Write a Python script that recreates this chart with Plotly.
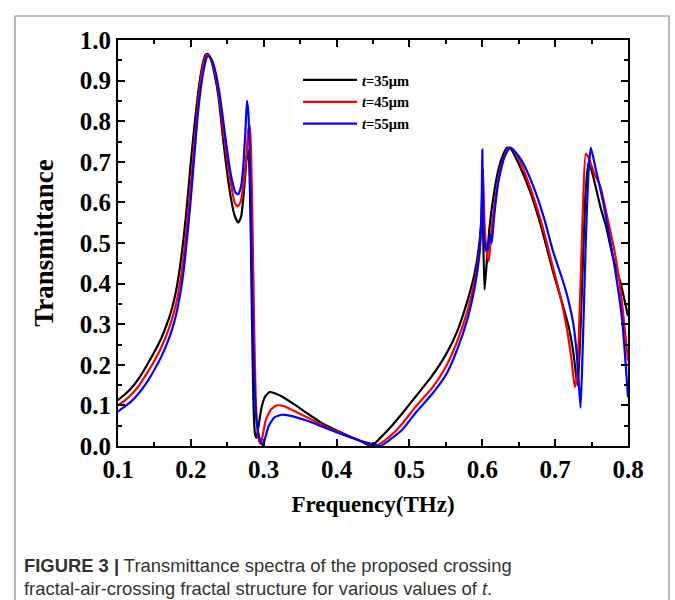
import plotly.graph_objects as go

# Transmittance spectra for three thicknesses t of the crossing fractal-air-crossing fractal structure
freq_35 = [0.100, 0.110, 0.120, 0.130, 0.140, 0.150, 0.160, 0.170, 0.175, 0.180, 0.185, 0.190,
           0.195, 0.200, 0.205, 0.210, 0.215, 0.220, 0.223, 0.227, 0.232, 0.238, 0.244, 0.250,
           0.255, 0.260, 0.265, 0.269, 0.273, 0.276, 0.278, 0.280, 0.282, 0.284, 0.286, 0.288,
           0.290, 0.293, 0.297, 0.302, 0.308, 0.315, 0.325, 0.340, 0.360, 0.380, 0.400, 0.420,
           0.435, 0.448, 0.460, 0.475, 0.490, 0.510, 0.530, 0.550, 0.565, 0.580, 0.590, 0.596,
           0.599, 0.600, 0.601, 0.603, 0.606, 0.610, 0.615, 0.622, 0.628, 0.634, 0.640, 0.650,
           0.665, 0.680, 0.697, 0.710, 0.719, 0.725, 0.729, 0.731, 0.734, 0.738, 0.742, 0.746,
           0.752, 0.762, 0.770, 0.780, 0.790, 0.800]
trans_35 = [0.113, 0.128, 0.146, 0.170, 0.200, 0.232, 0.268, 0.315, 0.345, 0.385, 0.440, 0.510,
            0.600, 0.700, 0.790, 0.870, 0.930, 0.963, 0.966, 0.955, 0.920, 0.860, 0.760, 0.670,
            0.610, 0.568, 0.550, 0.565, 0.630, 0.700, 0.730, 0.700, 0.550, 0.300, 0.100, 0.030,
            0.020, 0.050, 0.095, 0.122, 0.133, 0.130, 0.122, 0.105, 0.080, 0.056, 0.038, 0.022,
            0.010, 0.000, 0.020, 0.048, 0.080, 0.125, 0.170, 0.225, 0.280, 0.360, 0.430, 0.500,
            0.570, 0.640, 0.550, 0.385, 0.450, 0.540, 0.610, 0.680, 0.715, 0.735, 0.730, 0.695,
            0.630, 0.545, 0.430, 0.350, 0.290, 0.230, 0.170, 0.150, 0.250, 0.450, 0.630, 0.700,
            0.665, 0.590, 0.540, 0.460, 0.400, 0.320]

freq_45 = [0.100, 0.110, 0.120, 0.130, 0.140, 0.150, 0.160, 0.170, 0.175, 0.180, 0.185, 0.190,
           0.195, 0.200, 0.205, 0.210, 0.215, 0.221, 0.224, 0.228, 0.233, 0.239, 0.245, 0.251,
           0.256, 0.260, 0.264, 0.268, 0.272, 0.276, 0.279, 0.281, 0.283, 0.285, 0.287, 0.289,
           0.291, 0.294, 0.296, 0.299, 0.303, 0.310, 0.318, 0.328, 0.340, 0.360, 0.380, 0.400,
           0.420, 0.440, 0.453, 0.465, 0.480, 0.490, 0.510, 0.532, 0.550, 0.565, 0.580, 0.590,
           0.596, 0.599, 0.601, 0.603, 0.606, 0.609, 0.612, 0.618, 0.626, 0.636, 0.642, 0.652,
           0.667, 0.682, 0.697, 0.707, 0.715, 0.722, 0.727, 0.730, 0.734, 0.738, 0.742, 0.746,
           0.754, 0.762, 0.772, 0.782, 0.790, 0.800]
trans_45 = [0.100, 0.113, 0.130, 0.152, 0.180, 0.210, 0.245, 0.290, 0.318, 0.352, 0.400, 0.465,
            0.550, 0.645, 0.750, 0.845, 0.920, 0.962, 0.963, 0.952, 0.920, 0.860, 0.770, 0.690,
            0.635, 0.600, 0.590, 0.600, 0.640, 0.710, 0.780, 0.790, 0.700, 0.500, 0.280, 0.120,
            0.050, 0.010, 0.005, 0.030, 0.065, 0.090, 0.100, 0.098, 0.088, 0.070, 0.052, 0.036,
            0.021, 0.008, 0.000, 0.012, 0.035, 0.055, 0.100, 0.145, 0.195, 0.255, 0.335, 0.410,
            0.480, 0.560, 0.680, 0.550, 0.480, 0.455, 0.520, 0.610, 0.690, 0.735, 0.730, 0.700,
            0.630, 0.545, 0.440, 0.370, 0.300, 0.220, 0.145, 0.170, 0.350, 0.580, 0.720, 0.710,
            0.670, 0.640, 0.560, 0.475, 0.380, 0.210]

freq_55 = [0.100, 0.110, 0.120, 0.130, 0.140, 0.150, 0.160, 0.170, 0.175, 0.180, 0.185, 0.190,
           0.195, 0.200, 0.205, 0.210, 0.216, 0.222, 0.225, 0.229, 0.234, 0.240, 0.246, 0.252,
           0.257, 0.261, 0.265, 0.269, 0.272, 0.275, 0.277, 0.279, 0.281, 0.283, 0.285, 0.288,
           0.291, 0.295, 0.299, 0.302, 0.307, 0.315, 0.325, 0.340, 0.360, 0.380, 0.400, 0.420,
           0.440, 0.460, 0.475, 0.490, 0.510, 0.532, 0.550, 0.565, 0.580, 0.590, 0.596, 0.599,
           0.600, 0.601, 0.603, 0.606, 0.609, 0.611, 0.613, 0.616, 0.622, 0.630, 0.638, 0.645,
           0.655, 0.670, 0.685, 0.697, 0.710, 0.718, 0.725, 0.730, 0.733, 0.735, 0.738, 0.742,
           0.746, 0.749, 0.756, 0.766, 0.780, 0.792, 0.800]
trans_55 = [0.085, 0.098, 0.113, 0.133, 0.158, 0.188, 0.222, 0.265, 0.292, 0.325, 0.370, 0.430,
            0.515, 0.610, 0.720, 0.825, 0.910, 0.958, 0.960, 0.950, 0.920, 0.860, 0.780, 0.700,
            0.650, 0.625, 0.620, 0.640, 0.690, 0.780, 0.850, 0.820, 0.700, 0.500, 0.300, 0.120,
            0.050, 0.015, 0.002, 0.020, 0.050, 0.071, 0.077, 0.073, 0.062, 0.048, 0.034, 0.021,
            0.009, 0.000, 0.018, 0.040, 0.085, 0.130, 0.175, 0.235, 0.315, 0.395, 0.470, 0.580,
            0.730, 0.600, 0.500, 0.480, 0.500, 0.520, 0.500, 0.560, 0.650, 0.710, 0.735, 0.725,
            0.700, 0.640, 0.560, 0.480, 0.410, 0.360, 0.300, 0.220, 0.140, 0.094, 0.250, 0.500,
            0.680, 0.735, 0.680, 0.600, 0.460, 0.310, 0.120]

series_names = ["<i>t</i>=35μm", "<i>t</i>=45μm", "<i>t</i>=55μm"]
series_colors = ["#000000", "#ff0000", "#0000ff"]

x_ticks = [0.1, 0.2, 0.3, 0.4, 0.5, 0.6, 0.7, 0.8]
y_ticks = [0.0, 0.1, 0.2, 0.3, 0.4, 0.5, 0.6, 0.7, 0.8, 0.9, 1.0]

SERIF = "Liberation Serif"

fig = go.Figure()
for fx, ty, name, color in zip([freq_35, freq_45, freq_55],
                               [trans_35, trans_45, trans_55],
                               series_names, series_colors):
    fig.add_trace(go.Scatter(x=fx, y=ty, mode="lines", name=name,
                             line=dict(color=color, width=2.2, shape="spline", smoothing=0.5)))

axis_common = dict(
    showline=True, linecolor="black", linewidth=2, mirror="ticks",
    ticks="inside", ticklen=7, tickwidth=1.5, tickcolor="black",
    showgrid=False, zeroline=False,
    tickfont=dict(family=SERIF, size=25, color="black", weight="bold"),
)

fig.update_xaxes(
    range=[0.1, 0.8], tickvals=x_ticks, ticktext=[f"{v:.1f}" for v in x_ticks],
    minor=dict(dtick=0.05, ticks="inside", ticklen=4, tickwidth=1.5, tickcolor="black"),
    title=dict(text="Frequency(THz)", font=dict(family=SERIF, size=23, color="black", weight="bold"),
               standoff=14),
    **axis_common,
)
fig.update_yaxes(
    range=[0.0, 1.0], tickvals=y_ticks, ticktext=[f"{v:.1f}" for v in y_ticks],
    minor=dict(dtick=0.05, ticks="inside", ticklen=4, tickwidth=1.5, tickcolor="black"),
    title=dict(text="Transmittance", font=dict(family=SERIF, size=27, color="black", weight="bold"),
               standoff=18),
    **axis_common,
)

L, R, T, B = 118, 47, 40, 154
W, H = 675, 600
pw, ph = W - L - R, H - T - B

def px(x):
    return (x - L) / pw

def py(y):
    return (H - B - y) / ph

# Figure frame (open at the bottom edge of the page)
fig.add_shape(type="path", xref="paper", yref="paper",
              path=f"M {px(15)},{py(610)} L {px(15)},{py(16)} L {px(669)},{py(16)} L {px(669)},{py(610)}",
              line=dict(color="#8a8a8a", width=1.2))

CAPTION_FONT = dict(family="Liberation Sans", size=18.4, color="#333333")
fig.add_annotation(
    xref="paper", yref="paper", x=px(22), y=py(565), xanchor="left", yanchor="middle",
    text="<b>FIGURE 3 |</b> Transmittance spectra of the proposed crossing",
    showarrow=False, align="left", font=CAPTION_FONT,
)
fig.add_annotation(
    xref="paper", yref="paper", x=px(22), y=py(588), xanchor="left", yanchor="middle",
    text="fractal-air-crossing fractal structure for various values of <i>t</i>.",
    showarrow=False, align="left", font=CAPTION_FONT,
)

fig.update_layout(
    width=W, height=H,
    margin=dict(l=L, r=R, t=T, b=B),
    paper_bgcolor="white", plot_bgcolor="white",
    showlegend=True,
    legend=dict(x=px(298), y=py(64), xanchor="left", yanchor="top",
                bgcolor="rgba(0,0,0,0)", borderwidth=0, itemwidth=54,
                font=dict(family=SERIF, size=14.5, color="black", weight="bold")),
)

fig.write_html("out.html")
